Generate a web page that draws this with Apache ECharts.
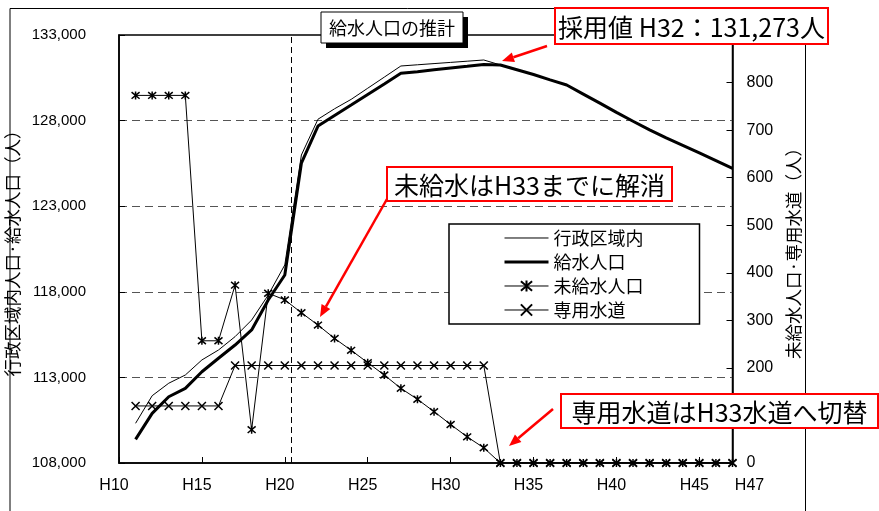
<!DOCTYPE html>
<html>
<head>
<meta charset="utf-8">
<script src="https://cdn.jsdelivr.net/npm/echarts@6/dist/echarts.min.js"></script>
<style>
  html, body { margin: 0; padding: 0; background: #fff; }
  #chart { width: 879px; height: 511px; }
</style>
</head>
<body>
<div id="chart"></div>
<script>
// 年度（平成）
const years = [11, 12, 13, 14, 15, 16, 17, 18, 19, 20, 21, 22, 23, 24, 25, 26, 27, 28, 29,
  30, 31, 32, 33, 34, 35, 36, 37, 38, 39, 40, 41, 42, 43, 44, 45, 46, 47];

// 行政区域内人口（人）
const adminPop = [110320, 111930, 112660, 113140, 114020, 114600, 115380, 116350, 117810, 119570,
  125990, 128080, 128690, 129240, 129890, 130540, 131190, 131260, 131330, 131400, 131470, 131540,
  131250, 130970, 130690, 130380, 130080, 129550, 129020, 128480, 127960, 127460, 126990, 126550,
  126110, 125660, 125210];

// 給水人口（人）
const servedPop = [109380, 110900, 111870, 112360, 113330, 114120, 114890, 115770, 117520, 118980,
  125510, 127680, 128300, 128910, 129530, 130140, 130760, 130860, 130970, 131070, 131170, 131273,
  131250, 130970, 130690, 130380, 130080, 129550, 129020, 128480, 127960, 127460, 126990, 126550,
  126110, 125660, 125210];

// 未給水人口（人）
const unservedPop = [773, 773, 773, 773, 257, 257, 374, 70, 357, 343, 316, 290, 262, 237, 211, 185,
  157, 134, 108, 81, 55, 32, 0, 0, 0, 0, 0, 0, 0, 0, 0, 0, 0, 0, 0, 0, 0];

// 専用水道（人）
const privateWorksPop = [120, 120, 120, 120, 120, 120, 205, 205, 205, 205, 205, 205, 205, 205, 205,
  205, 205, 205, 205, 205, 205, 205, 0, 0, 0, 0, 0, 0, 0, 0, 0, 0, 0, 0, 0, 0, 0];

const seriesNames = ['行政区域内', '給水人口', '未給水人口', '専用水道'];
const chartTitle = '給水人口の推計';
const leftAxisName = '行政区域内人口·給水人口（人）';
const rightAxisName = '未給水人口·専用水道（人）';
const dividerYear = 20.4;   // 実績／推計の区切り
const notes = {
  adopted: '採用値 H32：131,273人',
  unserved: '未給水はH33までに解消',
  privateWorks: '専用水道はH33水道へ切替'
};

const pairs = (ys) => years.map((y, i) => [y, ys[i]]);

const CJK = '"Noto Sans CJK JP", "Noto Sans", sans-serif';
const LATIN = '"Liberation Sans", Arial, sans-serif';

const asteriskSymbol = 'path://M0,0L10,10M10,0L0,10M5,-1L5,11';
const crossSymbol = 'path://M0,0L10,10M10,0L0,10';

// 注記の引出し矢印
function arrow(x1, y1, x2, y2) {
  const a = Math.atan2(y2 - y1, x2 - x1);
  const L = 12, W = 5;
  const bx = x2 - L * Math.cos(a), by = y2 - L * Math.sin(a);
  const px = -Math.sin(a) * W, py = Math.cos(a) * W;
  return [
    { type: 'line', shape: { x1: x1, y1: y1, x2: bx, y2: by },
      style: { stroke: '#ff0000', lineWidth: 2.5 }, z: 20 },
    { type: 'polygon', shape: { points: [[x2, y2], [bx + px, by + py], [bx - px, by - py]] },
      style: { fill: '#ff0000' }, z: 20 }
  ];
}

function noteBox(x, y, w, h, text, size) {
  return [
    { type: 'rect', shape: { x: x, y: y, width: w, height: h },
      style: { fill: '#fff', stroke: '#ff0000', lineWidth: 2 }, z: 30 },
    { type: 'text', x: x + w / 2, y: y + h / 2 + 1,
      style: { text: text, font: size + 'px ' + CJK, fill: '#000', align: 'center', verticalAlign: 'middle' }, z: 31 }
  ];
}

const chart = echarts.init(document.getElementById('chart'), null, { renderer: 'canvas' });

chart.setOption({
  animation: false,
  backgroundColor: '#fff',
  grid: { left: 119, right: 146.5, top: 35, bottom: 48, show: true, borderColor: '#000', borderWidth: 1.5,
    containLabel: false, outerBoundsMode: 'none' },
  legend: {
    orient: 'vertical',
    left: 449, top: 224,
    padding: [5, 56, 5, 54],
    itemWidth: 44, itemHeight: 14, itemGap: 6,
    backgroundColor: '#fff', borderColor: '#000', borderWidth: 1.5,
    selectedMode: false,
    textStyle: { fontFamily: CJK, fontSize: 18, color: '#000' },
    data: [
      { name: seriesNames[0], itemStyle: { opacity: 0 }, lineStyle: { width: 1, color: '#000' } },
      { name: seriesNames[1], itemStyle: { opacity: 0 }, lineStyle: { width: 3, color: '#000' } },
      { name: seriesNames[2], lineStyle: { width: 1, color: '#000' } },
      { name: seriesNames[3], lineStyle: { width: 1, color: '#000' } }
    ]
  },
  xAxis: {
    type: 'value', min: 10, max: 47, interval: 5,
    axisLine: { lineStyle: { color: '#000', width: 1.5 } },
    axisTick: { inside: true, length: 6, lineStyle: { color: '#000' } },
    splitLine: { show: false },
    axisLabel: {
      margin: 15, padding: [0, 10, 0, 0],
      fontFamily: LATIN, fontSize: 16, color: '#000',
      formatter: (v) => v === 47 ? '{last|H47}' : 'H' + v,
      rich: { last: { padding: [0, 0, 0, 44], fontFamily: LATIN, fontSize: 16, color: '#000' } }
    }
  },
  yAxis: [
    {
      type: 'value', min: 108000, max: 133000, interval: 5000, position: 'left',
      name: leftAxisName, nameLocation: 'middle', nameGap: 78, nameRotate: 90,
      nameTextStyle: { fontFamily: CJK, fontSize: 17.5, color: '#000' },
      axisLine: { show: true, lineStyle: { color: '#000', width: 1.5 } },
      axisTick: { show: true, inside: true, length: 6, lineStyle: { color: '#000' } },
      axisLabel: { margin: 33, fontFamily: LATIN, fontSize: 15, color: '#000',
        formatter: (v) => v.toLocaleString('en-US') },
      splitLine: { show: true, showMinLine: false, showMaxLine: false,
        lineStyle: { color: '#555', width: 1.2, type: [8, 5] } }
    },
    {
      type: 'value', min: 0, max: 900, interval: 100, position: 'right',
      name: rightAxisName, nameLocation: 'middle', nameGap: 44, nameRotate: 90,
      nameTextStyle: { fontFamily: CJK, fontSize: 17.5, color: '#000' },
      axisLine: { show: true, lineStyle: { color: '#000', width: 1.5 } },
      axisTick: { show: true, inside: true, length: 6, lineStyle: { color: '#000' } },
      axisLabel: { margin: 14, fontFamily: LATIN, fontSize: 16, color: '#000', showMaxLabel: false },
      splitLine: { show: false }
    }
  ],
  series: [
    {
      name: seriesNames[0], type: 'line', yAxisIndex: 0, data: pairs(adminPop),
      symbol: 'none', lineStyle: { color: '#000', width: 1 }, itemStyle: { color: '#000' }, z: 2,
      markLine: {
        silent: true, symbol: 'none', label: { show: false },
        lineStyle: { color: '#000', width: 1, type: [6, 4] },
        data: [{ xAxis: dividerYear }]
      }
    },
    {
      name: seriesNames[1], type: 'line', yAxisIndex: 0, data: pairs(servedPop),
      symbol: 'none', lineStyle: { color: '#000', width: 3 }, itemStyle: { color: '#000' }, z: 3
    },
    {
      name: seriesNames[2], type: 'line', yAxisIndex: 1, data: pairs(unservedPop),
      symbol: asteriskSymbol, symbolSize: 8,
      lineStyle: { color: '#000', width: 1 },
      itemStyle: { color: '#000', borderColor: '#000', borderWidth: 1.5 }, z: 4
    },
    {
      name: seriesNames[3], type: 'line', yAxisIndex: 1, data: pairs(privateWorksPop),
      symbol: crossSymbol, symbolSize: 8,
      lineStyle: { color: '#000', width: 1 },
      itemStyle: { color: '#000', borderColor: '#000', borderWidth: 1.5 }, z: 4
    }
  ],
  graphic: [
    // 外枠
    { type: 'rect', shape: { x: 10, y: 8.5, width: 795.5, height: 520 },
      style: { fill: 'none', stroke: '#000', lineWidth: 1 }, z: 1, silent: true },
    // 表題
    { type: 'rect', shape: { x: 326, y: 17, width: 142, height: 31 }, style: { fill: '#000' }, z: 25 },
    { type: 'rect', shape: { x: 321, y: 12, width: 142, height: 31 },
      style: { fill: '#fff', stroke: '#000', lineWidth: 1 }, z: 26 },
    { type: 'text', x: 392, y: 28,
      style: { text: chartTitle, font: '18px ' + CJK, fill: '#000', align: 'center', verticalAlign: 'middle' }, z: 27 },
    // 注記
    ...noteBox(555, 8, 273, 36, notes.adopted, 25),
    ...noteBox(387, 167, 285, 34, notes.unserved, 25),
    ...noteBox(561, 394, 317, 34, notes.privateWorks, 25),
    ...arrow(547, 46, 502, 61),
    ...arrow(387, 199, 320, 317),
    ...arrow(553, 409, 509, 446)
  ]
});
</script>
</body>
</html>
